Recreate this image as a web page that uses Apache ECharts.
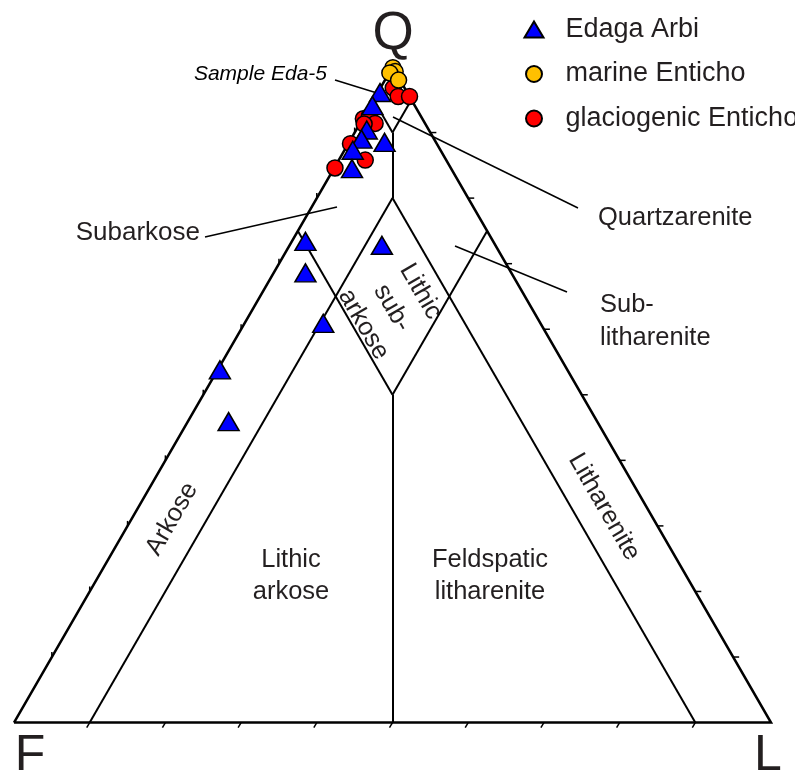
<!DOCTYPE html>
<html><head><meta charset="utf-8">
<script src="https://cdn.jsdelivr.net/npm/echarts@6/dist/echarts.min.js"></script>
<style>html,body{margin:0;padding:0;background:#fff}#c{width:795px;height:776px}</style>
</head><body><div id="c"></div>
<script>
// Compositions as [Q, F, L] in percent
const edagaArbi = [
  [96.1,3.6,0.3],[94.1,5.6,0.3],[90.4,8.2,1.4],[89.0,9.6,1.4],[87.3,11.6,1.1],
  [88.5,6.8,4.7],[84.5,13.1,2.4],[73.4,24.8,1.8],[68.6,27.2,4.2],[60.9,28.7,10.4],
  [53.8,45.9,0.3],[45.9,48.7,5.4],[72.8,15.0,12.2]
];
const marineEnticho = [
  [99.9,0.0,0.1],[99.3,0.0,0.7],[99.1,0.8,0.1],[98.0,0.2,1.8]
];
const glaciogenicEnticho = [
  [96.8,1.5,1.7],[95.5,1.5,3.0],[95.5,0.0,4.5],[92.1,7.8,0.1],[92.5,6.8,0.7],
  [91.4,6.6,2.0],[91.3,8.1,0.6],[88.3,11.4,0.3],[85.8,10.7,3.5],[84.6,15.3,0.1]
];
const tickPercents = [10,20,30,40,50,60,70,80,90];
// classification field boundaries, each a pair of [Q, F, L]
const fieldLines = [
  [[95,5,0],[90,5,5]],
  [[95,0,5],[90,5,5]],
  [[90,5,5],[80,10,10]],
  [[50,25,25],[0,50,50]],
  [[0,90,10],[80,10,10]],
  [[0,10,90],[80,10,10]],
  [[75,25,0],[50,25,25]],
  [[75,0,25],[50,25,25]]
];
const outline = [[0,100,0],[0,0,100],[100,0,0],[0,100,0]];

const H = Math.sqrt(3) / 2;
function toXY(p) {
  const s = p[0] + p[1] + p[2];
  const q = p[0] / s, l = p[2] / s;
  return [l + q / 2, q * H];
}

const tickData = [];
tickPercents.forEach(function (t) {
  tickData.push(toXY([t, 100 - t, 0]).concat([0]));   // left (Q-F) side
  tickData.push(toXY([t, 0, 100 - t]).concat([1]));   // right (Q-L) side
  tickData.push(toXY([0, 100 - t, t]).concat([2]));   // base (F-L)
});
const tickOffsets = [[0, -5], [6, 0], [-3, 5]];

const FONT = 'Liberation Sans, Arial, sans-serif';
const TXT = '#231f20';
const markBorder = { borderColor: '#000', borderWidth: 1.5 };

const chart = echarts.init(document.getElementById('c'), null, { renderer: 'canvas' });
const gw = 757;
chart.setOption({
  animation: false,
  backgroundColor: '#fff',
  grid: { left: 14, top: 67, width: gw, height: gw * H },
  xAxis: { type: 'value', min: 0, max: 1, show: false },
  yAxis: { type: 'value', min: 0, max: H, show: false },
  legend: {
    orient: 'vertical', left: 518.5, top: 11,
    itemWidth: 19, itemHeight: 16, itemGap: 17.5,
    data: ['Edaga Arbi', 'marine Enticho', 'glaciogenic Enticho'],
    textStyle: { fontSize: 27, color: TXT, fontFamily: FONT, lineHeight: 27, padding: [0, 0, 0, 17] }
  },
  series: [
    {
      type: 'lines', coordinateSystem: 'cartesian2d', polyline: true, silent: true, clip: false,
      lineStyle: { color: '#000', width: 2.5, opacity: 1 },
      data: [{ coords: outline.map(toXY) }], z: 2
    },
    {
      type: 'lines', coordinateSystem: 'cartesian2d', silent: true, clip: false,
      lineStyle: { color: '#000', width: 2, opacity: 1 },
      data: fieldLines.map(function (s) { return { coords: s.map(toXY) }; }), z: 2
    },
    {
      type: 'custom', silent: true, clip: false, z: 2,
      data: tickData,
      renderItem: function (params, api) {
        const p = api.coord([api.value(0), api.value(1)]);
        const o = tickOffsets[api.value(2)];
        return { type: 'line', shape: { x1: p[0], y1: p[1], x2: p[0] + o[0], y2: p[1] + o[1] },
                 style: { stroke: '#000', lineWidth: 1.5 } };
      }
    },
    {
      name: 'glaciogenic Enticho', type: 'scatter', symbol: 'circle', symbolSize: 16, clip: false, z: 3,
      itemStyle: Object.assign({ color: '#ff0000', opacity: 1 }, markBorder),
      data: glaciogenicEnticho.map(toXY)
    },
    {
      name: 'marine Enticho', type: 'scatter', symbol: 'circle', symbolSize: 16, clip: false, z: 4,
      itemStyle: Object.assign({ color: '#ffc000', opacity: 1 }, markBorder),
      data: marineEnticho.map(toXY)
    },
    {
      name: 'Edaga Arbi', type: 'scatter', symbol: 'triangle', symbolSize: [21, 18], clip: false, z: 5,
      itemStyle: Object.assign({ color: '#0000ff', opacity: 1 }, markBorder),
      data: edagaArbi.map(toXY)
    }
  ],
  graphic: [
    { type: 'text', x: 393, y: 34, style: { text: 'Q', fontSize: 53, fill: TXT, fontFamily: FONT, align: 'center', verticalAlign: 'middle' } },
    { type: 'text', x: 30, y: 756, style: { text: 'F', fontSize: 50, fill: TXT, fontFamily: FONT, align: 'center', verticalAlign: 'middle' } },
    { type: 'text', x: 768, y: 756, style: { text: 'L', fontSize: 50, fill: TXT, fontFamily: FONT, align: 'center', verticalAlign: 'middle' } },
    { type: 'text', x: 327, y: 74, style: { text: 'Sample Eda-5', fontSize: 21, fontStyle: 'italic', fill: '#000', fontFamily: FONT, align: 'right', verticalAlign: 'middle' } },
    { type: 'text', x: 200, y: 233, style: { text: 'Subarkose', fontSize: 26, fill: TXT, fontFamily: FONT, align: 'right', verticalAlign: 'middle' } },
    { type: 'text', x: 598, y: 218, style: { text: 'Quartzarenite', fontSize: 25.5, fill: TXT, fontFamily: FONT, align: 'left', verticalAlign: 'middle' } },
    { type: 'text', x: 600, y: 321, style: { text: 'Sub-\nlitharenite', fontSize: 25.5, lineHeight: 33, fill: TXT, fontFamily: FONT, align: 'left', verticalAlign: 'middle' } },
    { type: 'text', x: 291, y: 576, style: { text: 'Lithic\narkose', fontSize: 25.5, lineHeight: 32, fill: TXT, fontFamily: FONT, align: 'center', verticalAlign: 'middle' } },
    { type: 'text', x: 490, y: 576, style: { text: 'Feldspatic\nlitharenite', fontSize: 25.5, lineHeight: 32, fill: TXT, fontFamily: FONT, align: 'center', verticalAlign: 'middle' } },
    { type: 'text', x: 172, y: 519, rotation: Math.PI / 3, style: { text: 'Arkose', fontSize: 25.5, fill: TXT, fontFamily: FONT, align: 'center', verticalAlign: 'middle' } },
    { type: 'text', x: 604, y: 507, rotation: -Math.PI / 3, style: { text: 'Litharenite', fontSize: 25.5, fill: TXT, fontFamily: FONT, align: 'center', verticalAlign: 'middle' } },
    { type: 'text', x: 392, y: 308, rotation: -Math.PI / 3, style: { text: 'Lithic\nsub-\narkose', fontSize: 25.5, lineHeight: 33, fill: TXT, fontFamily: FONT, align: 'center', verticalAlign: 'middle' } },
    { type: 'line', shape: { x1: 335, y1: 80, x2: 377, y2: 93 }, style: { stroke: '#000', lineWidth: 1.5 } },
    { type: 'line', shape: { x1: 205, y1: 237, x2: 337, y2: 207 }, style: { stroke: '#000', lineWidth: 1.5 } },
    { type: 'line', shape: { x1: 393, y1: 117, x2: 578, y2: 208 }, style: { stroke: '#000', lineWidth: 1.5 } },
    { type: 'line', shape: { x1: 455, y1: 246, x2: 567, y2: 292 }, style: { stroke: '#000', lineWidth: 1.5 } }
  ]
});
</script></body></html>
